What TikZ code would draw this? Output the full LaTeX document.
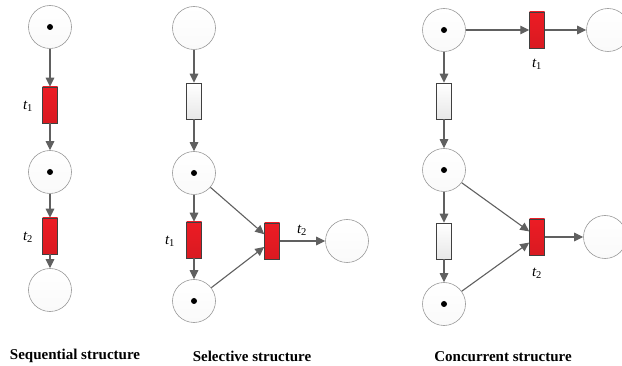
\documentclass[tikz,border=0pt]{standalone}
\usepackage{fontspec}
\setmainfont{Liberation Serif}
\usetikzlibrary{arrows.meta}
\definecolor{petrired}{RGB}{236,28,36}
\definecolor{arcgray}{RGB}{96,96,96}

\tikzset{
  place/.style={circle,draw=gray!80,line width=0.6pt,minimum size=43pt,inner sep=0pt,
    top color=white,bottom color=gray!4},
  token/.style={circle,fill=black,minimum size=6pt,inner sep=0pt},
  firing/.style={rectangle,draw=gray!50!black,line width=0.5pt,minimum width=15pt,
    minimum height=36pt,inner sep=0pt,top color=petrired,bottom color=petrired!92!black},
  idle/.style={rectangle,draw=gray!50!black,line width=0.5pt,minimum width=15pt,
    minimum height=36pt,inner sep=0pt,top color=white,bottom color=gray!18},
  arc/.style={draw=arcgray,line width=1.1pt,-{Triangle[length=9pt,width=8.5pt]}},
  tlabel/.style={font=\fontsize{15}{17}\selectfont\itshape,inner sep=0pt},
  caption/.style={font=\fontsize{15}{18}\selectfont\bfseries,inner sep=0pt}
}

\begin{document}
\begin{tikzpicture}[x=1pt,y=-1pt]
  \useasboundingbox (0,0) rectangle (622,366);

  % sequential structure
  \node[place] (s1) at (50,27) {};
  \node[firing] (st1) at (50,105) {};
  \node[place] (s2) at (50,172) {};
  \node[firing] (st2) at (50,236) {};
  \node[place] (s3) at (50,290) {};
  \node[token] at (s1) {};
  \node[token] at (s2) {};
  \draw[arc] (s1) -- (st1);
  \draw[arc] (st1) -- (s2);
  \draw[arc] (s2) -- (st2);
  \draw[arc] (st2) -- (s3);
  \node[tlabel] (sl1) at (28,106) {t\textsubscript{\upshape 1}};
  \node[tlabel] (sl2) at (28,237) {t\textsubscript{\upshape 2}};
  \node[caption] (scap) at (75,356) {Sequential structure};

  % selective structure
  \node[place] (c1) at (194,28) {};
  \node[idle] (ct0) at (194,101) {};
  \node[place] (c2) at (194,173) {};
  \node[firing] (ct1) at (194,240) {};
  \node[place] (c3) at (194,301) {};
  \node[firing] (ct2) at (272,241) {};
  \node[place] (c4) at (347,241) {};
  \node[token] at (c2) {};
  \node[token] at (c3) {};
  \draw[arc] (c1) -- (ct0);
  \draw[arc] (ct0) -- (c2);
  \draw[arc] (c2) -- (ct1);
  \draw[arc] (ct1) -- (c3);
  \draw[arc] (c2) -- (ct2);
  \draw[arc] (c3) -- (ct2);
  \draw[arc] (ct2) -- (c4);
  \node[tlabel] (cl1) at (170,241) {t\textsubscript{\upshape 1}};
  \node[tlabel] (cl2) at (302,230) {t\textsubscript{\upshape 2}};
  \node[caption] (ccap) at (252,356) {Selective structure};

  % concurrent structure
  \node[place] (r1) at (444,30) {};
  \node[firing] (rt1) at (537,30) {};
  \node[place] (r4) at (608,30) {};
  \node[idle] (rt0) at (444,101) {};
  \node[place] (r2) at (444,170) {};
  \node[idle] (rt3) at (444,241) {};
  \node[place] (r3) at (444,304) {};
  \node[firing] (rt2) at (537,237) {};
  \node[place] (r5) at (605,237) {};
  \node[token] at (r1) {};
  \node[token] at (r2) {};
  \node[token] at (r3) {};
  \draw[arc] (r1) -- (rt1);
  \draw[arc] (rt1) -- (r4);
  \draw[arc] (r1) -- (rt0);
  \draw[arc] (rt0) -- (r2);
  \draw[arc] (r2) -- (rt3);
  \draw[arc] (rt3) -- (r3);
  \draw[arc] (r2) -- (rt2);
  \draw[arc] (r3) -- (rt2);
  \draw[arc] (rt2) -- (r5);
  \node[tlabel] (rl1) at (537,64) {t\textsubscript{\upshape 1}};
  \node[tlabel] (rl2) at (537,273) {t\textsubscript{\upshape 2}};
  \node[caption] (rcap) at (503,357) {Concurrent structure};
\end{tikzpicture}
\end{document}
